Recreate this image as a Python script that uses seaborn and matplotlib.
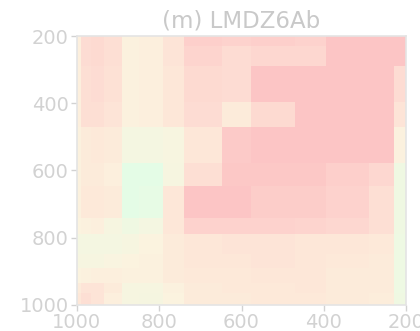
import numpy as np
import pandas as pd
import matplotlib
matplotlib.use("Agg")
import matplotlib.pyplot as plt
from matplotlib.colors import LinearSegmentedColormap
import seaborn as sns

# Pressure level edges (hPa) shared by both axes
level_edges = [1000, 990, 965, 935, 890, 850, 790, 740, 647, 577, 470, 395, 290, 230, 200]

# Normalised anomaly per cell: rows run from 200 hPa (top) down to 1000 hPa,
# columns run from 1000 hPa (left) to 200 hPa (right)
anomaly = [
    [0.10, 0.50, 0.55, 0.45, 0.05, 0.10, 0.35, 0.75, 0.70, 0.75, 0.70, 0.95, 0.95, 0.95],
    [0.10, 0.50, 0.55, 0.45, 0.05, 0.10, 0.35, 0.65, 0.50, 0.60, 0.60, 0.95, 0.95, 0.95],
    [0.10, 0.45, 0.50, 0.40, 0.05, 0.10, 0.30, 0.55, 0.50, 0.95, 0.95, 0.95, 0.95, 0.50],
    [0.10, 0.45, 0.45, 0.35, 0.05, 0.10, 0.30, 0.50, 0.20, 0.55, 0.95, 0.95, 0.95, 0.35],
    [0.05, 0.20, 0.25, 0.20, -0.30, -0.30, -0.15, 0.30, 0.85, 0.95, 0.95, 0.95, 0.95, 0.05],
    [0.05, 0.20, 0.20, 0.10, -0.90, -0.90, -0.20, 0.45, 0.90, 0.90, 0.90, 0.75, 0.60, -0.50],
    [0.05, 0.25, 0.25, 0.20, -0.90, -0.80, 0.30, 0.95, 0.95, 0.80, 0.80, 0.70, 0.45, -0.50],
    [0.00, 0.05, 0.10, -0.20, -0.50, -0.30, 0.30, 0.70, 0.70, 0.70, 0.65, 0.60, 0.45, -0.50],
    [-0.30, -0.30, -0.30, -0.30, -0.20, 0.00, 0.20, 0.30, 0.35, 0.35, 0.30, 0.30, 0.25, -0.55],
    [-0.20, -0.20, -0.20, -0.10, 0.00, 0.05, 0.20, 0.30, 0.30, 0.35, 0.30, 0.25, 0.20, -0.55],
    [0.00, 0.05, 0.10, 0.10, 0.05, 0.05, 0.20, 0.25, 0.25, 0.30, 0.30, 0.20, 0.20, -0.55],
    [0.20, 0.35, 0.35, 0.20, -0.20, -0.20, 0.05, 0.20, 0.25, 0.25, 0.30, 0.20, 0.20, -0.55],
    [0.30, 0.45, 0.35, 0.10, -0.20, -0.25, 0.00, 0.20, 0.20, 0.25, 0.25, 0.20, 0.15, -0.50],
    [0.30, 0.45, 0.35, 0.10, -0.20, -0.25, 0.00, 0.20, 0.20, 0.25, 0.25, 0.20, 0.15, -0.50],
]

x_ticks = [1000, 800, 600, 400, 200]
y_ticks = [200, 400, 600, 800, 1000]
title = "(m) LMDZ6Ab"

# Long-form table: one weighted point at each cell centre
edges = np.array(level_edges, dtype=float)
centres = (edges[:-1] + edges[1:]) / 2.0   # column centres, 1000 -> 200
row_centres = centres                        # rows from the top: 200 -> 1000 reversed below
rows = []
vals = np.array(anomaly)
n = len(centres)
for i in range(n):
    y_c = centres[::-1][i]   # row i counts from 200 hPa downward
    for j in range(n):
        rows.append({"x": centres[j], "y": y_c, "w": vals[i, j]})
df = pd.DataFrame(rows)

sns.set_style("ticks")
plt.rcParams["font.family"] = ["DejaVu Sans"]

cmap = LinearSegmentedColormap.from_list(
    "pastel_div",
    [(0.0, "#e2fde7"), (0.25, "#eff8e2"), (0.5, "#fbf3df"),
     (0.65, "#fde7d8"), (0.8, "#fdd7d0"), (1.0, "#fcc3c3")],
)

fig = plt.figure(figsize=(4.2, 3.31), dpi=100)
ax = fig.add_axes([0.183, 0.079, 0.784, 0.812])

bins = np.sort(edges)
sns.histplot(data=df, x="x", y="y", weights="w", bins=(bins, bins),
             thresh=None, cmap=cmap, vmin=-1, vmax=1, ax=ax)

ax.set_xlim(1000, 200)
ax.set_ylim(1000, 200)
ax.set_xticks(x_ticks)
ax.set_yticks(y_ticks)
ax.set_xlabel("")
ax.set_ylabel("")

text_grey = "#d2d2d2"
ax.tick_params(axis="both", labelsize=14, colors=text_grey, length=4, width=1, pad=2)
for s in ax.spines.values():
    s.set_visible(True)
    s.set_color("#e4e4e4")
    s.set_linewidth(1.2)

ax.set_title(title, fontsize=16.5, color="#c9c9c9", pad=6)

fig.savefig("out.png", dpi=100)
